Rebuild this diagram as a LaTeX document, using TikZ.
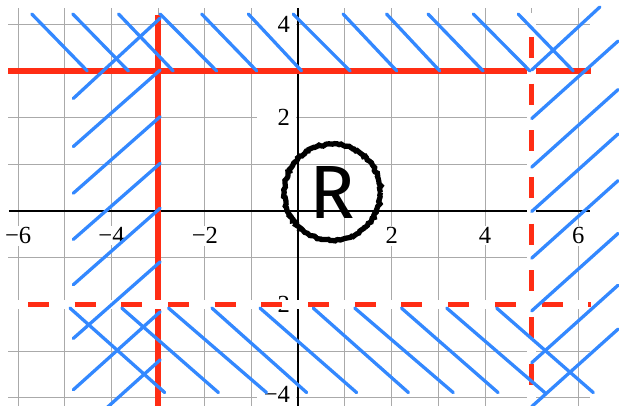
\documentclass[tikz,border=0pt]{standalone}
\usepackage{fontspec}
\setmainfont{Liberation Serif}
\newfontfamily\ringfont{Fira Sans}
\usetikzlibrary{decorations.pathmorphing}
\definecolor{regred}{HTML}{FF2D14}
\definecolor{hatchblue}{HTML}{3388FF}
\definecolor{gridgray}{HTML}{AAAAAA}

\begin{document}
\begin{tikzpicture}[x=1cm,y=1cm,font=\fontsize{15}{17}\selectfont,
  gridln/.style={gridgray,line width=.6pt},
  axisln/.style={black,line width=1.1pt},
  bound/.style={regred,line width=3.4pt},
  openbound/.style={regred,line width=3pt,dash pattern=on .45cm off .55cm},
  gapband/.style={white,line width=.2cm},
  hatch/.style={hatchblue,line width=2pt,line cap=round},
  xlab/.style={fill=white,inner sep=1pt},
  ylab/.style={anchor=east,fill=white,inner xsep=.12cm,inner ysep=.5pt,text width=.58cm,align=right},
  ringlabel/.style={circle,draw=black,line width=3.2pt,minimum size=2.06cm,inner sep=0pt,
    decorate,decoration={random steps,segment length=1.2pt,amplitude=.6pt},
    font=\ringfont\fontsize{46}{46}\selectfont}]
\path[use as bounding box] (-6.39,-4.175) rectangle (6.87,4.52);
\clip (-6.39,-4.175) rectangle (6.87,4.52);
\draw[gridln] (-6,-4.3)--(-6,4.34);
\draw[gridln] (-5,-4.3)--(-5,4.34);
\draw[gridln] (-4,-4.3)--(-4,4.34);
\draw[gridln] (-3,-4.3)--(-3,4.34);
\draw[gridln] (-2,-4.3)--(-2,4.34);
\draw[gridln] (-1,-4.3)--(-1,4.34);
\draw[gridln] (1,-4.3)--(1,4.34);
\draw[gridln] (2,-4.3)--(2,4.34);
\draw[gridln] (3,-4.3)--(3,4.34);
\draw[gridln] (4,-4.3)--(4,4.34);
\draw[gridln] (5,-4.3)--(5,4.34);
\draw[gridln] (6,-4.3)--(6,4.34);
\draw[gridln] (-6.21,4)--(6.25,4);
\draw[gridln] (-6.21,3)--(6.25,3);
\draw[gridln] (-6.21,2)--(5,2);
\draw[gridln] (-6.21,1)--(5,1);
\draw[gridln] (-6.21,-1)--(5,-1);
\draw[gridln] (-6.21,-2)--(6.25,-2);
\draw[gridln] (-6.21,-3)--(6.25,-3);
\draw[gridln] (-6.21,-4)--(6.25,-4);
\draw[axisln] (-6.2,0)--(6.25,0);
\draw[axisln] (0,4.34)--(0,-4.3);
\node[xlab] (xm6) at (-6,-0.53) {−6};
\node[xlab] (xm4) at (-4,-0.53) {−4};
\node[xlab] (xm2) at (-2,-0.53) {−2};
\node[xlab] (xp2) at (2,-0.53) {2};
\node[xlab] (xp4) at (4,-0.53) {4};
\node[xlab] (xp6) at (6,-0.53) {6};
\node[ylab] (yp4) at (-0.05,4) {4};
\node[ylab] (yp2) at (-0.05,2) {2};
\node[ylab] (ym2) at (-0.05,-2) {−2};
\node[ylab] (ym4) at (-0.05,-3.92) {−4};
\draw[bound] (-6.21,3)--(6.28,3);
\draw[bound] (-3,4.2)--(-3,-4.3);
\draw[gapband] (-6.25,-2)--(6.28,-2);
\draw[gapband] (5,4.25)--(5,-4.3);
\draw[openbound,dash phase=.54cm] (-6.25,-2)--(6.28,-2);
\draw[openbound,dash phase=.48cm] (5,4.25)--(5,-4.3);
\draw[hatch] (-5.71,4.22)--(-4.52,3.0) (-4.83,4.22)--(-3.64,3.0) (-3.85,4.22)--(-2.68,3.0)
  (-2.96,4.22)--(-1.75,3.0) (-2.07,4.22)--(-0.89,3.0) (-1.07,4.22)--(0.07,3.0)
  (-0.11,4.22)--(1.11,3.0) (0.96,4.22)--(2.11,3.0) (1.89,4.22)--(3.03,3.0)
  (2.78,4.22)--(3.96,3.0) (3.75,4.22)--(4.96,3.0) (4.71,4.22)--(5.89,3.0);
\draw[hatch] (-4.82,2.41)--(-2.96,4.13) (-4.82,1.38)--(-2.96,3.02) (-4.82,0.38)--(-2.96,2.02)
  (-4.82,-0.61)--(-2.96,1.02) (-4.82,-1.58)--(-2.96,0.06) (-4.82,-2.73)--(-2.96,-1.09)
  (-4.82,-3.83)--(-2.96,-2.16) (-4.82,-4.86)--(-2.96,-3.19);
\draw[hatch] (-4.89,-2.08)--(-2.86,-3.89) (-3.78,-2.08)--(-1.71,-3.89) (-2.78,-2.08)--(-0.68,-3.89)
  (-1.85,-2.08)--(0.18,-3.89) (-0.82,-2.08)--(1.25,-3.89) (0.32,-2.08)--(2.36,-3.89)
  (1.21,-2.08)--(3.32,-3.89) (2.21,-2.08)--(4.28,-3.89) (3.18,-2.08)--(5.28,-3.89)
  (4.25,-2.08)--(6.32,-3.89);
\draw[hatch] (5.0,3.02)--(6.46,4.37) (5.0,1.98)--(6.85,3.64) (5.0,0.94)--(6.85,2.6)
  (5.0,-0.01)--(6.85,1.65) (5.0,-1.01)--(6.85,0.65) (5.0,-2.14)--(6.85,-0.48)
  (5.0,-3.25)--(6.85,-1.59) (5.0,-4.19)--(6.85,-2.53);
\node[ringlabel] (rmark) at (0.73,0.4) {R};
\end{tikzpicture}
\end{document}
